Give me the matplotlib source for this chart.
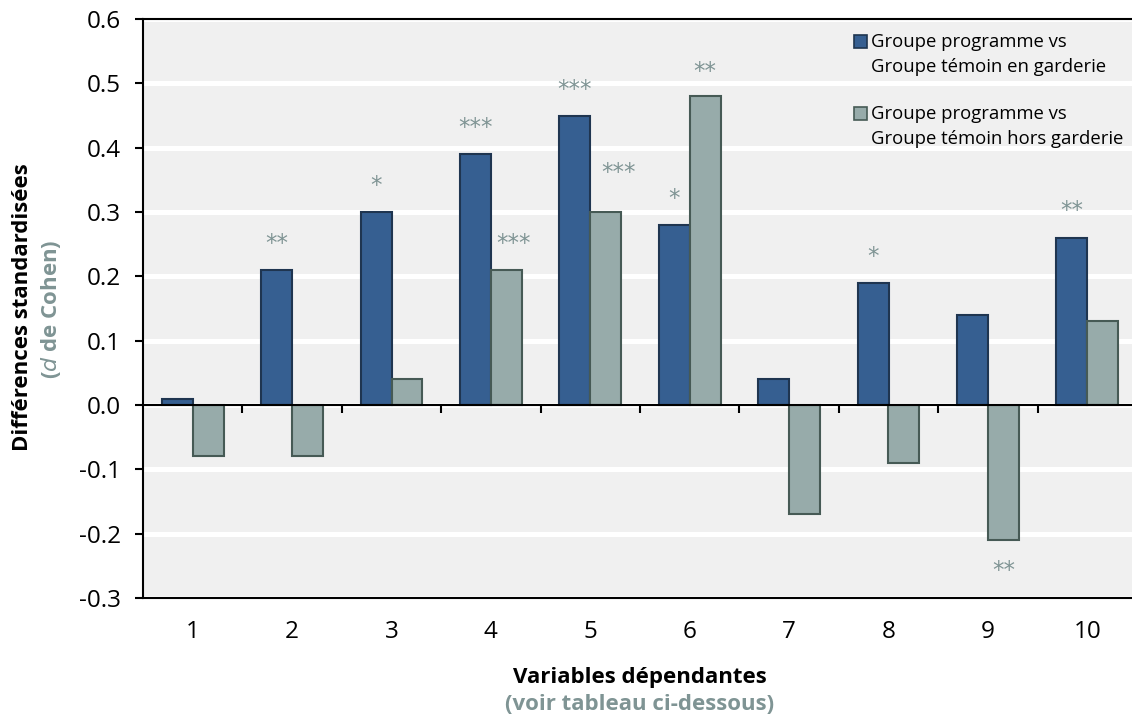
import matplotlib.pyplot as plt
from matplotlib.patches import Rectangle
import numpy as np

plt.rcParams['font.family'] = ['Open Sans', 'DejaVu Sans']

# Data
variables = [1, 2, 3, 4, 5, 6, 7, 8, 9, 10]
d_en_garderie = [0.01, 0.21, 0.30, 0.39, 0.45, 0.28, 0.04, 0.19, 0.14, 0.26]
d_hors_garderie = [-0.08, -0.08, 0.04, 0.21, 0.30, 0.48, -0.17, -0.09, -0.21, 0.13]

# significance marks: (variable, series 0=en garderie / 1=hors garderie, stars, level)
stars_var = [2, 3, 4, 4, 5, 5, 6, 6, 8, 9, 10]
stars_serie = [0, 0, 0, 1, 0, 1, 0, 1, 0, 1, 0]
stars_txt = ['**', '*', '***', '***', '***', '***', '*', '**', '*', '**', '**']
stars_lvl = [0.26, 0.35, 0.44, 0.26, 0.50, 0.37, 0.33, 0.527, 0.24, -0.249, 0.311]
stars_dx = [0, 0, 0, 0.07, 0, 0.13, 0, 0, 0, 0, 0]

legend_labels = [('Groupe programme vs', 'Groupe témoin en garderie'),
                 ('Groupe programme vs', 'Groupe témoin hors garderie')]

blue = '#365F91'
blue_edge = '#1F3550'
grey = '#97ABAA'
grey_edge = '#465A55'
star_col = '#7F9494'

W, H = 1132, 719
fig = plt.figure(figsize=(W / 100, H / 100), dpi=100)
ax = fig.add_axes([143 / W, 1 - 598 / H, 1 - 143 / W, (598 - 19) / H])
ax.set_facecolor('#F0F0F0')

x = np.array(variables)
w = 0.31
ax.bar(x - w / 2, d_en_garderie, w, color=blue, edgecolor=blue_edge, linewidth=1.5, zorder=2)
ax.bar(x + w / 2, d_hors_garderie, w, color=grey, edgecolor=grey_edge, linewidth=1.5, zorder=2)

for v, s, t, lvl, dx in zip(stars_var, stars_serie, stars_txt, stars_lvl, stars_dx):
    xc = v - w / 2 if s == 0 else v + w / 2
    ax.text(xc + dx, lvl - 0.019, t, ha='center', va='baseline', fontsize=16.5,
            color=star_col, family='DejaVu Sans', zorder=5)

# axis at zero with ticks between categories
ax.axhline(0, color='black', lw=1.5, zorder=4)
ax.vlines(np.arange(1.5, 10.5), -0.0125, 0, color='black', lw=1.5, zorder=4)

ax.set_xlim(0.5, 0.5 + 989 / 99.4)
ax.set_ylim(-0.3, 0.6)
ax.set_yticks(np.arange(-0.3, 0.61, 0.1))
ax.set_yticklabels(['%.1f' % v for v in np.arange(-0.3, 0.61, 0.1)])
ax.set_xticks(x)
ax.set_xticklabels([str(v) for v in variables])
ax.yaxis.grid(True, color='white', lw=3.6)
ax.set_axisbelow(True)
ax.tick_params(axis='y', length=5.8, width=1.5, pad=10, labelsize=17.5)
ax.tick_params(axis='x', length=0, pad=16, labelsize=17.5)
for side in ['left', 'top', 'bottom']:
    ax.spines[side].set_linewidth(1.5)
ax.spines['right'].set_visible(False)

# axis titles
fig.text(640 / W, 1 - 678 / H, 'Variables dépendantes', ha='center', va='center',
         fontsize=16, fontweight='bold')
fig.text(640 / W, 1 - 705 / H, '(voir tableau ci-dessous)', ha='center', va='center',
         fontsize=16, fontweight='bold', color=star_col)
fig.text(23 / W, 1 - 307 / H, 'Différences standardisées', rotation=90, ha='center',
         va='center', fontsize=16, fontweight='bold')
fig.text(51 / W, 1 - 309 / H, r'($\mathbf{\it{d}}$ de Cohen)', rotation=90, ha='center',
         va='center', fontsize=16, fontweight='bold', color=star_col)

# legend drawn by hand
for (l1, l2), yb, fc, ec in zip(legend_labels, [47, 119], [blue, grey], [blue_edge, grey_edge]):
    fig.patches.append(Rectangle((854 / W, 1 - (yb + 1) / H), 13 / W, 13 / H,
                                 transform=fig.transFigure, facecolor=fc,
                                 edgecolor=ec, linewidth=1.2))
    fig.text(871 / W, 1 - yb / H, l1, ha='left', va='baseline', fontsize=13.3)
    fig.text(871 / W, 1 - (yb + 24.5) / H, l2, ha='left', va='baseline', fontsize=13.3)

fig.savefig('out.png', dpi=100)
